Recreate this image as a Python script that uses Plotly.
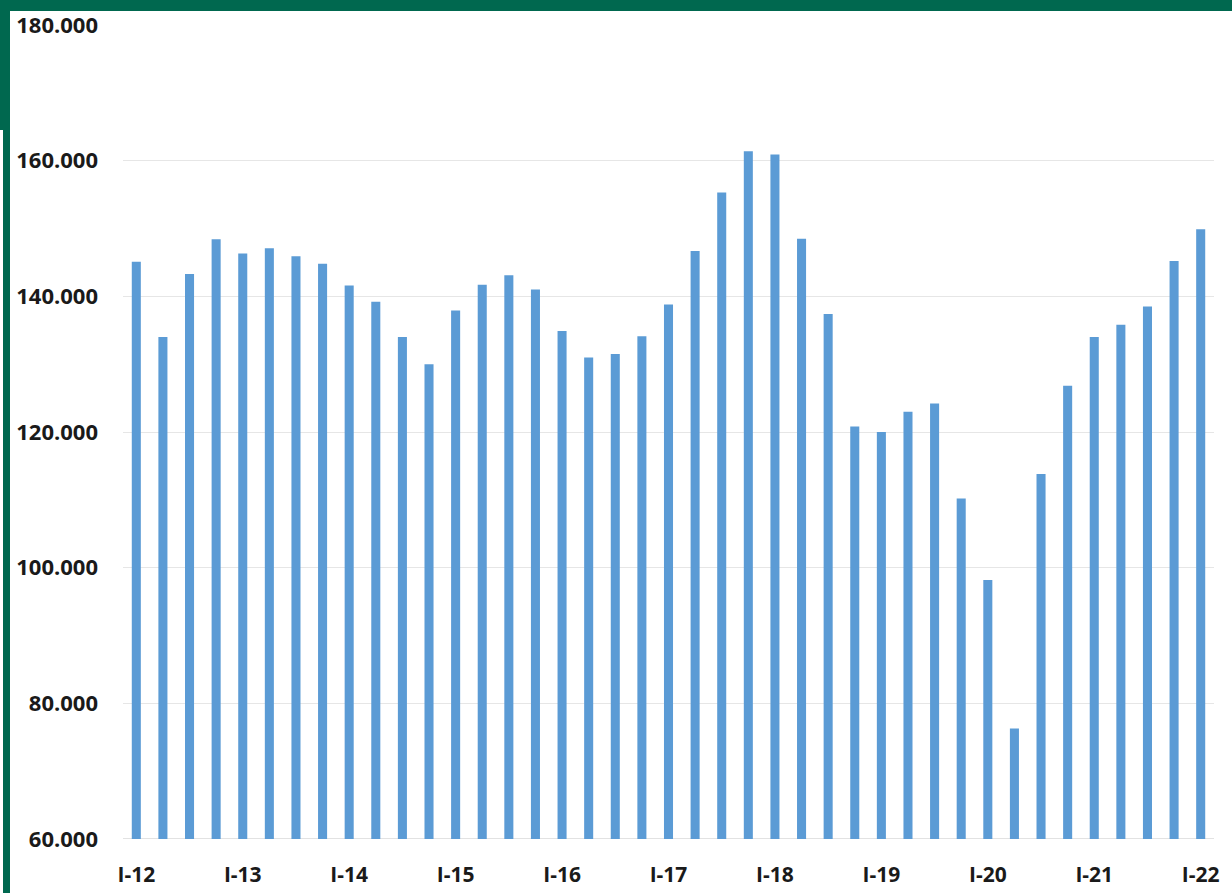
import plotly.graph_objects as go

years = ["12", "13", "14", "15", "16", "17", "18", "19", "20", "21", "22"]
quarter_marks = ["I", "II", "III", "IV"]
periods = [f"{q}-{y}" for y in years for q in quarter_marks][:41]
tick_labels = [f"I-{y}" for y in years]

values_thousands = [
    145.1, 134.0, 143.3, 148.4, 146.3, 147.1, 145.9, 144.8, 141.6, 139.2,
    134.0, 130.0, 137.9, 141.7, 143.1, 141.0, 134.9, 131.0, 131.5, 134.1,
    138.8, 146.7, 155.3, 161.4, 160.9, 148.5, 137.4, 120.8, 120.0, 123.0,
    124.2, 110.2, 98.2, 76.3, 113.8, 126.8, 134.0, 135.8, 138.5, 145.2,
    149.9,
]
values = [v * 1000 for v in values_thousands]

y_ticks = [60000, 80000, 100000, 120000, 140000, 160000, 180000]
y_tick_text = ["60.000", "80.000", "100.000", "120.000", "140.000", "160.000", "180.000"]

GREEN = "#00684F"
BLUE = "#5B9BD5"

fig = go.Figure(
    go.Bar(x=periods, y=values, marker=dict(color=BLUE, line=dict(width=0)))
)

fig.update_layout(
    width=1232,
    height=893,
    margin=dict(l=123, r=18, t=25, b=54),
    paper_bgcolor="white",
    plot_bgcolor="white",
    bargap=0.66,
    showlegend=False,
    font=dict(family="Open Sans", size=20, color="#1a1a1a", weight="bold"),
    xaxis=dict(
        type="category",
        range=[-0.5, 40.5],
        tickmode="array",
        tickvals=tick_labels,
        ticktext=tick_labels,
        tickangle=0,
        showgrid=False,
        showline=False,
        zeroline=False,
        ticks="",
        automargin=False,
        ticklabelstandoff=21,
        tickfont=dict(family="Open Sans", size=21, color="#1a1a1a", weight="bold"),
    ),
    yaxis=dict(
        range=[60000, 180000],
        tickmode="array",
        tickvals=y_ticks,
        ticktext=y_tick_text,
        showgrid=True,
        gridcolor="#e6e6e6",
        gridwidth=1,
        zeroline=False,
        showline=False,
        ticks="",
        automargin=False,
        ticklabelstandoff=24,
        tickfont=dict(family="Open Sans", size=22, color="#1a1a1a", weight="bold"),
    ),
    shapes=[
        dict(type="line", xref="paper", yref="y", x0=0, x1=1, y0=60000, y1=60000,
             line=dict(color="#d9d9d9", width=1.5), layer="below"),
        dict(type="rect", xref="paper", yref="paper", x0=-123/1091, x1=(1232-123)/1091,
             y0=1 + 14/814, y1=1 + 25/814, fillcolor=GREEN, line=dict(width=0)),
        dict(type="rect", xref="paper", yref="paper", x0=-123/1091, x1=-113/1091,
             y0=1 - 105/814, y1=1 + 25/814, fillcolor=GREEN, line=dict(width=0)),
        dict(type="rect", xref="paper", yref="paper", x0=-120/1091, x1=-113/1091,
             y0=-54/814, y1=1 - 105/814, fillcolor=GREEN, line=dict(width=0)),
    ],
)

fig.write_html(
    "out.html",
    config={"displayModeBar": False},
    post_script="document.body.style.margin='0px';document.body.style.overflow='hidden';",
)
